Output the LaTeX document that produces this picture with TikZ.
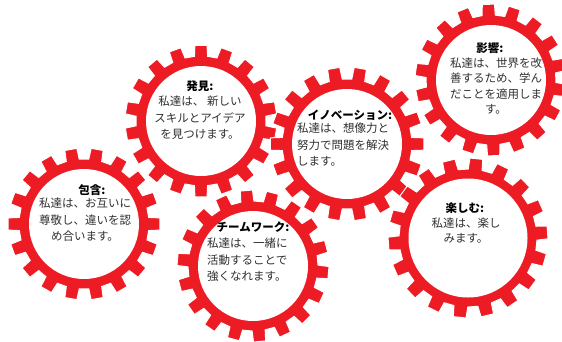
\documentclass[tikz,border=0pt]{standalone}
\usepackage{fontspec}
\setmainfont{Noto Sans CJK JP}
\definecolor{gearred}{HTML}{ED1C24}
\definecolor{bodytext}{HTML}{303030}
\newcommand\mygear[5]{%
  \fill[gearred, draw=white, line width=1pt, shift={(#1,#2)}]
    ({#5-5.8}:#3) \foreach \k in {0,...,17}{
      -- ({#5+\k*20-5.8}:#3) -- ({#5+\k*20-4.6}:#4) -- ({#5+\k*20+4.6}:#4) -- ({#5+\k*20+5.8}:#3) } -- cycle;
}
\tikzset{
  titletext/.style={inner sep=0pt, font=\fontsize{11.5}{16}\selectfont\bfseries, text=black},
  bodyc/.style={inner sep=0pt, align=center, font=\fontsize{11.5}{16.5}\selectfont, text=bodytext},
  bodyl/.style={inner sep=0pt, align=left, font=\fontsize{11.5}{16.5}\selectfont, text=bodytext},
  hole/.style={fill=white}
}
\begin{document}
\begin{tikzpicture}[x=1pt,y=-1pt]
\useasboundingbox (0,0) rectangle (562,341);
% gears
\mygear{84}{224}{65}{76}{0}
\mygear{201}{121}{65}{76}{10}
\mygear{253}{266}{65}{76}{5}
\mygear{347}{144}{65}{77}{0}
\mygear{491}{80}{65}{76}{8}
\mygear{468}{238}{69}{80}{-4}
% holes
\fill[hole] (84,224) circle[radius=55pt];
\fill[hole] (201,121) circle[radius=55pt];
\fill[hole] (253,266) circle[radius=55pt];
\fill[hole] (347,144) circle[radius=55pt];
\fill[hole] (491,80) circle[radius=55pt];
\fill[hole] (468,238) circle[radius=59.5pt];
% texts
\node[titletext] (t1) at (92,190) {包含:};
\node[bodyc] (b1) at (85,220) {私達は、お互いに\\尊敬し、違いを認\\め合います。};
\node[titletext] (t2) at (200,86) {発見:};
\node[bodyc] (b2) at (200,118) {私達は、 新しい\\スキルとアイデア\\を見つけます。};
\node[titletext] (t3) at (253,227) {チームワーク:};
\node[bodyl, anchor=west] (b3) at (207,260) {私達は、一緒に\\活動することで\\強くなれます。};
\node[titletext] (t4) at (350,115) {イノベーション:};
\node[bodyl, anchor=west] (b4) at (297,145) {私達は、想像力と\\努力で問題を解決\\します。};
\node[titletext] (t5) at (490,48) {影響:};
\node[bodyc, font=\fontsize{11.5}{15.2}\selectfont] (b5) at (496,86) {私達は、世界を改\\善するため、学ん\\だことを適用しま\\す。};
\node[titletext] (t6) at (465,208) {楽しむ:};
\node[bodyc, font=\fontsize{11.5}{15.2}\selectfont] (b6) at (466,230.5) {私達は、楽し\\みます。};
\end{tikzpicture}
\end{document}
